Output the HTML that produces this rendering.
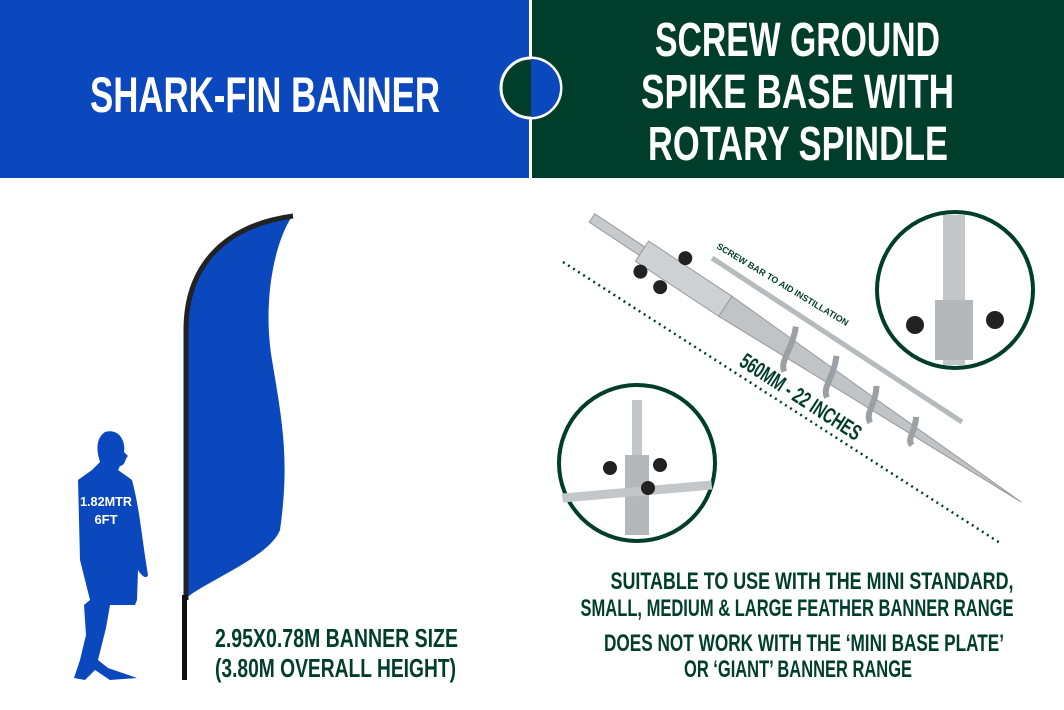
<!DOCTYPE html>
<html><head><meta charset="utf-8"><style>
body{margin:0;width:1064px;height:710px;overflow:hidden;background:#fff}
svg{display:block}
text{font-family:"Liberation Sans",sans-serif;font-weight:bold}
</style></head><body>
<svg width="1064" height="710" viewBox="0 0 1064 710">
<rect x="0" y="0" width="531" height="178" fill="#0b47bd"/>
<rect x="531" y="0" width="533" height="178" fill="#003d2b"/>
<rect x="529" y="0" width="3" height="178" fill="#fff"/>
<circle cx="531" cy="88" r="30" fill="#003d2b" stroke="#fff" stroke-width="3"/>
<path d="M531 59 A29 29 0 0 1 531 117 Z" fill="#0b47bd"/>
<text x="90" y="112" font-size="50" fill="#fff" textLength="350" lengthAdjust="spacingAndGlyphs">SHARK-FIN BANNER</text>
<text x="655" y="56" font-size="48" fill="#fff" textLength="285" lengthAdjust="spacingAndGlyphs">SCREW GROUND</text>
<text x="641" y="108" font-size="48" fill="#fff" textLength="313" lengthAdjust="spacingAndGlyphs">SPIKE BASE WITH</text>
<text x="648" y="160" font-size="48" fill="#fff" textLength="300" lengthAdjust="spacingAndGlyphs">ROTARY SPINDLE</text>

<!-- flag -->
<path d="M185 600 L185 330 C185 270 220 225 293 215 C275 240 262 300 272 360 C282 420 290 460 280 530 C270 555 220 575 190 595 Z" fill="#0b47bd"/>
<path d="M186 600 L186 330 C186 270 220 226 293 216" fill="none" stroke="#222" stroke-width="5"/>
<rect x="182" y="595" width="5" height="85" fill="#111"/>
<!-- person -->
<path d="M105 432 C118 428 126 440 124 452 L128 456 C124 460 126 465 120 466 L118 470 L132 480 C140 510 142 540 148 575 C146 580 141 575 138 570 L137 600 L135 605 L110 605 L106 628 L98 660 L108 668 L137 678 L110 680 L95 670 L85 680 L74 678 L80 660 L86 635 L84 605 L90 600 L80 560 L78 480 L92 470 L100 462 C96 450 96 438 105 432 Z" fill="#0b47bd"/>
<text x="106" y="506" font-size="13" fill="#fff" text-anchor="middle" textLength="52" lengthAdjust="spacingAndGlyphs">1.82MTR</text>
<text x="106" y="524" font-size="13" fill="#fff" text-anchor="middle">6FT</text>
<text x="215" y="647" font-size="26" fill="#003d2b" textLength="243" lengthAdjust="spacingAndGlyphs">2.95X0.78M BANNER SIZE</text>
<text x="215" y="677" font-size="26" fill="#003d2b" textLength="241" lengthAdjust="spacingAndGlyphs">(3.80M OVERALL HEIGHT)</text>

<!-- spike -->
<line x1="563" y1="262" x2="1000" y2="543" stroke="#003d2b" stroke-width="2.5" stroke-dasharray="2 4"/>
<line x1="712" y1="258" x2="962" y2="422" stroke="#b5babd" stroke-width="5"/>
<g transform="translate(592,218) rotate(33.5)">
<rect x="0" y="-5" width="60" height="10" fill="#c6cacd" stroke="#999"/>
<rect x="60" y="-12" width="100" height="24" fill="#cdd1d4" stroke="#999"/>
<path d="M160 -12 L330 -6 L515 0 L330 6 L160 12 Z" fill="#c0c4c7" stroke="#999"/>
<path d="M230 -22 C240 0 235 15 245 22 M280 -20 C290 0 285 14 295 20 M330 -17 C340 0 335 12 345 17 M380 -13 C388 0 384 10 392 13" stroke="#9aa0a4" stroke-width="6" fill="none"/>
<circle cx="100" cy="-18" r="7" fill="#222"/><circle cx="95" cy="20" r="7" fill="#222"/><circle cx="70" cy="18" r="7" fill="#222"/>
</g>
<text transform="translate(716,248) rotate(31)" font-size="9" fill="#003d2b">SCREW BAR TO AID INSTILLATION</text>
<text transform="translate(738,365) rotate(33)" font-size="22" fill="#003d2b" textLength="140" lengthAdjust="spacingAndGlyphs">560MM - 22 INCHES</text>

<!-- circles -->
<g>
<circle cx="955" cy="290" r="78" fill="#fff" stroke="#003d2b" stroke-width="4"/>
<rect x="943" y="215" width="22" height="150" fill="#c3c7ca"/>
<rect x="935" y="300" width="38" height="60" fill="#b4b8bb"/>
<circle cx="915" cy="325" r="9" fill="#222"/><circle cx="995" cy="320" r="9" fill="#222"/>
</g>
<g>
<circle cx="637" cy="463" r="78" fill="#fff" stroke="#003d2b" stroke-width="4"/>
<rect x="632" y="400" width="10" height="60" fill="#c3c7ca"/>
<rect x="625" y="455" width="24" height="80" fill="#b4b8bb"/>
<rect x="562" y="487" width="150" height="9" fill="#c3c7ca" transform="rotate(-5 637 491)"/>
<circle cx="610" cy="468" r="7" fill="#222"/><circle cx="660" cy="465" r="7" fill="#222"/><circle cx="648" cy="488" r="7" fill="#222"/>
</g>

<g font-size="24" fill="#003d2b" text-anchor="middle">
<text x="812" y="589" textLength="403" lengthAdjust="spacingAndGlyphs">SUITABLE TO USE WITH THE MINI STANDARD,</text>
<text x="797" y="616" textLength="433" lengthAdjust="spacingAndGlyphs">SMALL, MEDIUM &amp; LARGE FEATHER BANNER RANGE</text>
<text x="804" y="651" textLength="400" lengthAdjust="spacingAndGlyphs">DOES NOT WORK WITH THE ‘MINI BASE PLATE’</text>
<text x="798" y="677" textLength="228" lengthAdjust="spacingAndGlyphs">OR ‘GIANT’ BANNER RANGE</text>
</g>
</svg>
</body></html>
